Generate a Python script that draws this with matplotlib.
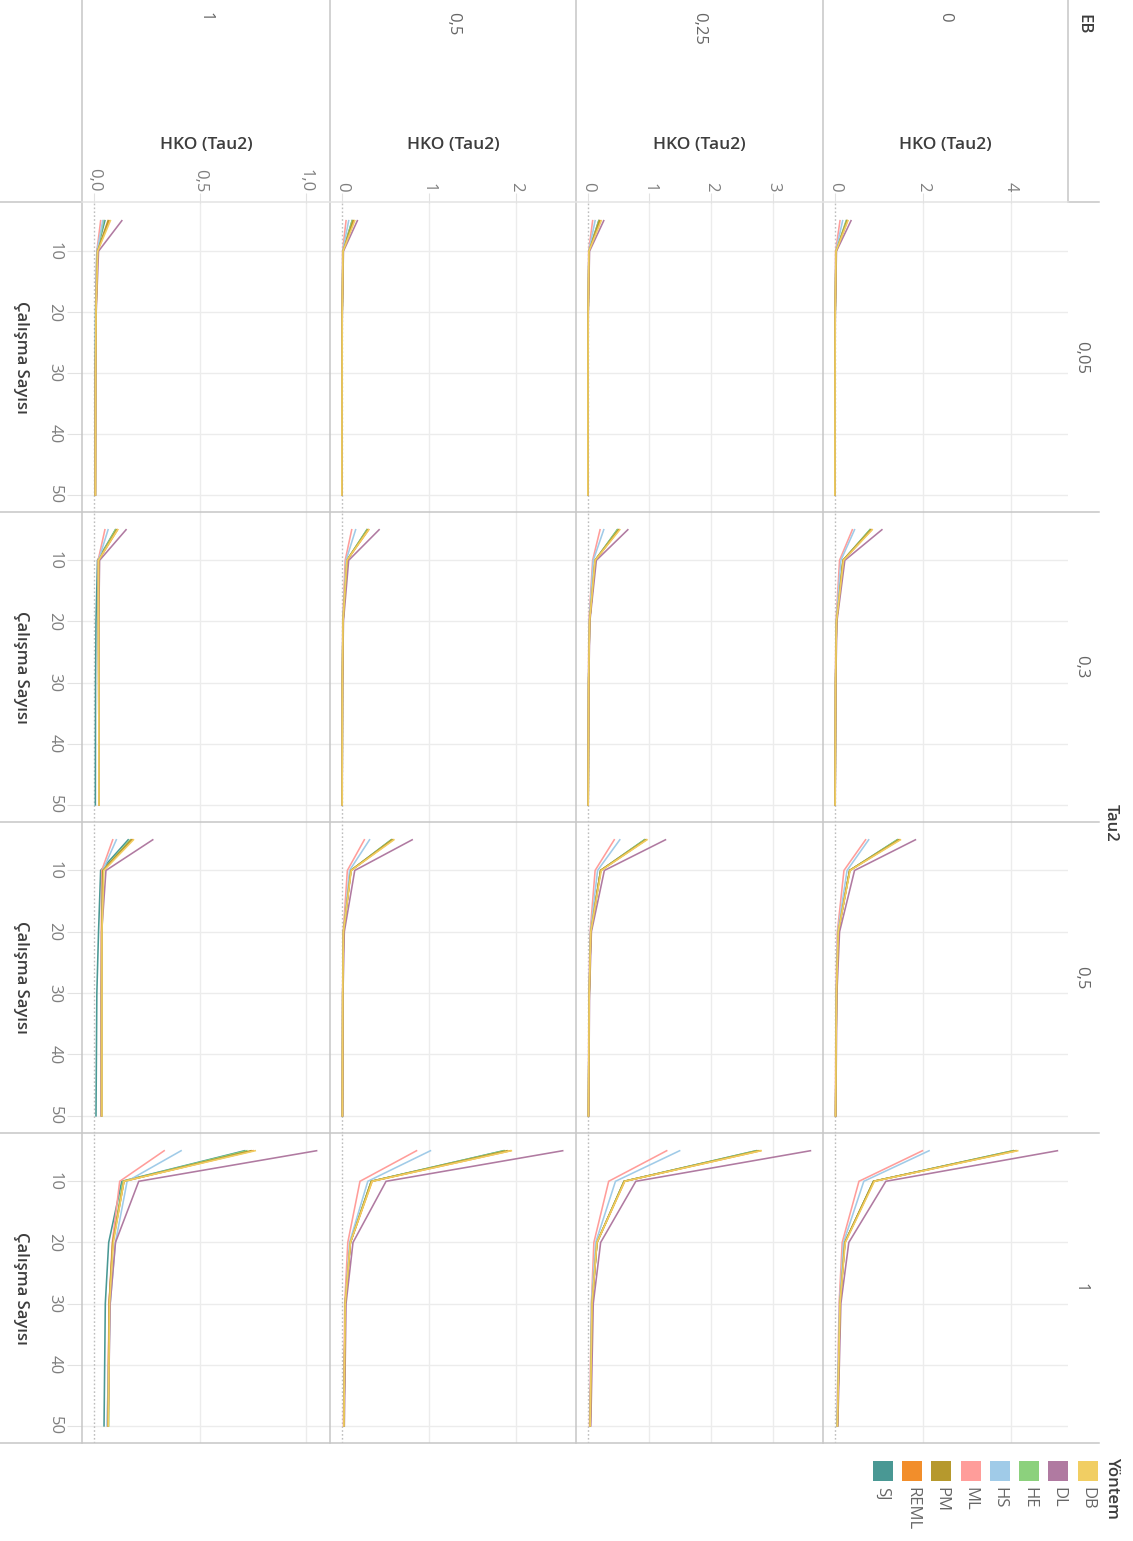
import matplotlib
matplotlib.use("Agg")
import matplotlib.pyplot as plt
from matplotlib.lines import Line2D
from matplotlib.patches import Rectangle

plt.rcParams['font.family'] = ['Open Sans', 'DejaVu Sans']

W, H = 1133, 1541

# ---------------- data ----------------
METHODS = ["SJ", "REML", "PM", "ML", "HS", "HE", "DL", "DB"]
DRAW_ORDER = ["SJ", "HE", "REML", "ML", "HS", "DL", "PM", "DB"]
LEGEND_ORDER = ["DB", "DL", "HE", "HS", "ML", "PM", "REML", "SJ"]
COLORS = {"SJ": "#499894", "REML": "#F28E2B", "PM": "#B6992D", "ML": "#FF9D9A",
          "HS": "#A0CBE8", "HE": "#8CD17D", "DL": "#B07AA1", "DB": "#F1CE63"}
N_STUDIES = [5, 10, 20, 30, 50]
EB_LEVELS = ["0", "0,25", "0,5", "1"]
TAU2_LEVELS = ["0,05", "0,3", "0,5", "1"]
N_TICKS = [10, 20, 30, 40, 50]
EB_XTICKS = [[0, 2, 4], [0, 1, 2, 3], [0, 1, 2], [0, 0.5, 1.0]]
EB_XTICKLABELS = [["0", "2", "4"], ["0", "1", "2", "3"], ["0", "1", "2"], ["0,0", "0,5", "1,0"]]

# HKO (Tau2) values; rows follow METHODS order, columns follow N_STUDIES
# EB = 0
HKO_EB0_T005 = [[0.27, 0.03, 0.012, 0.008, 0.005], [0.29, 0.03, 0.012, 0.008, 0.005],
                [0.28, 0.03, 0.012, 0.008, 0.005], [0.12, 0.02, 0.01, 0.007, 0.004],
                [0.18, 0.025, 0.011, 0.007, 0.004], [0.26, 0.03, 0.012, 0.008, 0.005],
                [0.37, 0.04, 0.014, 0.009, 0.006], [0.30, 0.03, 0.012, 0.008, 0.005]]
HKO_EB0_T03 = [[0.80, 0.19, 0.04, 0.02, 0.010], [0.84, 0.19, 0.04, 0.02, 0.010],
               [0.82, 0.19, 0.04, 0.02, 0.010], [0.40, 0.11, 0.03, 0.015, 0.008],
               [0.45, 0.14, 0.035, 0.018, 0.009], [0.80, 0.19, 0.04, 0.02, 0.010],
               [1.07, 0.23, 0.05, 0.025, 0.012], [0.85, 0.20, 0.04, 0.02, 0.010]]
HKO_EB0_T05 = [[1.42, 0.34, 0.08, 0.04, 0.02], [1.47, 0.34, 0.08, 0.04, 0.02],
               [1.45, 0.34, 0.08, 0.04, 0.02], [0.70, 0.21, 0.06, 0.03, 0.015],
               [0.77, 0.28, 0.07, 0.035, 0.02], [1.42, 0.34, 0.08, 0.04, 0.02],
               [1.83, 0.45, 0.11, 0.05, 0.025], [1.49, 0.35, 0.08, 0.04, 0.02]]
HKO_EB0_T1 = [[4.05, 0.88, 0.23, 0.12, 0.06], [4.12, 0.89, 0.23, 0.12, 0.06],
              [4.10, 0.88, 0.23, 0.12, 0.06], [1.99, 0.55, 0.17, 0.10, 0.05],
              [2.14, 0.66, 0.20, 0.11, 0.05], [4.05, 0.88, 0.23, 0.12, 0.06],
              [5.05, 1.16, 0.32, 0.14, 0.07], [4.15, 0.90, 0.24, 0.12, 0.06]]
# EB = 0.25
HKO_EB025_T005 = [[0.18, 0.02, 0.008, 0.005, 0.003], [0.20, 0.02, 0.008, 0.005, 0.003],
                  [0.19, 0.02, 0.008, 0.005, 0.003], [0.08, 0.015, 0.007, 0.004, 0.003],
                  [0.12, 0.018, 0.007, 0.004, 0.003], [0.18, 0.02, 0.008, 0.005, 0.003],
                  [0.26, 0.03, 0.01, 0.006, 0.004], [0.22, 0.02, 0.008, 0.005, 0.003]]
HKO_EB025_T03 = [[0.48, 0.12, 0.03, 0.015, 0.008], [0.51, 0.12, 0.03, 0.015, 0.008],
                 [0.50, 0.12, 0.03, 0.015, 0.008], [0.20, 0.08, 0.02, 0.012, 0.006],
                 [0.26, 0.09, 0.025, 0.013, 0.007], [0.48, 0.12, 0.03, 0.015, 0.008],
                 [0.65, 0.14, 0.035, 0.018, 0.009], [0.52, 0.12, 0.03, 0.015, 0.008]]
HKO_EB025_T05 = [[0.92, 0.21, 0.05, 0.025, 0.012], [0.95, 0.21, 0.05, 0.025, 0.012],
                 [0.94, 0.21, 0.05, 0.025, 0.012], [0.43, 0.12, 0.04, 0.02, 0.010],
                 [0.52, 0.16, 0.045, 0.022, 0.011], [0.92, 0.21, 0.05, 0.025, 0.012],
                 [1.26, 0.27, 0.06, 0.03, 0.015], [0.96, 0.22, 0.05, 0.025, 0.012]]
HKO_EB025_T1 = [[2.73, 0.59, 0.15, 0.07, 0.04], [2.80, 0.60, 0.15, 0.07, 0.04],
                [2.77, 0.59, 0.15, 0.07, 0.04], [1.28, 0.34, 0.10, 0.06, 0.03],
                [1.49, 0.45, 0.13, 0.06, 0.04], [2.74, 0.59, 0.15, 0.07, 0.04],
                [3.61, 0.78, 0.21, 0.09, 0.05], [2.81, 0.60, 0.15, 0.07, 0.04]]
# EB = 0.5
HKO_EB05_T005 = [[0.12, 0.015, 0.006, 0.004, 0.002], [0.14, 0.015, 0.006, 0.004, 0.002],
                 [0.13, 0.015, 0.006, 0.004, 0.002], [0.05, 0.01, 0.005, 0.003, 0.002],
                 [0.08, 0.012, 0.005, 0.003, 0.002], [0.12, 0.015, 0.006, 0.004, 0.002],
                 [0.18, 0.02, 0.007, 0.004, 0.003], [0.15, 0.015, 0.006, 0.004, 0.002]]
HKO_EB05_T03 = [[0.29, 0.06, 0.015, 0.008, 0.005], [0.31, 0.06, 0.015, 0.008, 0.005],
                [0.30, 0.06, 0.015, 0.008, 0.005], [0.115, 0.04, 0.012, 0.007, 0.004],
                [0.16, 0.05, 0.013, 0.007, 0.004], [0.29, 0.06, 0.015, 0.008, 0.005],
                [0.43, 0.08, 0.02, 0.01, 0.006], [0.31, 0.06, 0.015, 0.008, 0.005]]
HKO_EB05_T05 = [[0.57, 0.106, 0.02, 0.012, 0.008], [0.59, 0.106, 0.02, 0.012, 0.008],
                [0.58, 0.106, 0.02, 0.012, 0.008], [0.26, 0.065, 0.018, 0.010, 0.007],
                [0.32, 0.09, 0.02, 0.011, 0.008], [0.57, 0.106, 0.02, 0.012, 0.008],
                [0.81, 0.15, 0.03, 0.015, 0.010], [0.60, 0.11, 0.02, 0.012, 0.008]]
HKO_EB05_T1 = [[1.86, 0.34, 0.10, 0.04, 0.025], [1.94, 0.35, 0.10, 0.04, 0.025],
               [1.90, 0.34, 0.10, 0.04, 0.025], [0.86, 0.21, 0.07, 0.035, 0.02],
               [1.02, 0.30, 0.09, 0.04, 0.025], [1.87, 0.34, 0.10, 0.04, 0.025],
               [2.54, 0.51, 0.13, 0.05, 0.03], [1.95, 0.35, 0.10, 0.04, 0.025]]
# EB = 1
HKO_EB1_T005 = [[0.05, 0.012, 0.006, 0.004, 0.003], [0.07, 0.015, 0.008, 0.006, 0.005],
                [0.065, 0.015, 0.008, 0.006, 0.005], [0.03, 0.012, 0.007, 0.006, 0.005],
                [0.04, 0.013, 0.008, 0.006, 0.005], [0.044, 0.014, 0.008, 0.006, 0.005],
                [0.13, 0.02, 0.009, 0.006, 0.005], [0.076, 0.016, 0.008, 0.006, 0.005]]
HKO_EB1_T03 = [[0.10, 0.015, 0.008, 0.006, 0.005], [0.11, 0.02, 0.02, 0.021, 0.022],
               [0.105, 0.02, 0.02, 0.021, 0.022], [0.05, 0.018, 0.02, 0.021, 0.022],
               [0.065, 0.02, 0.02, 0.021, 0.022], [0.10, 0.02, 0.02, 0.021, 0.022],
               [0.15, 0.025, 0.021, 0.021, 0.022], [0.11, 0.02, 0.02, 0.021, 0.022]]
HKO_EB1_T05 = [[0.16, 0.03, 0.02, 0.012, 0.008], [0.18, 0.04, 0.035, 0.034, 0.034],
               [0.175, 0.04, 0.035, 0.034, 0.034], [0.087, 0.035, 0.033, 0.033, 0.033],
               [0.104, 0.04, 0.035, 0.034, 0.034], [0.17, 0.04, 0.037, 0.036, 0.036],
               [0.276, 0.055, 0.035, 0.034, 0.034], [0.185, 0.045, 0.036, 0.036, 0.036]]
HKO_EB1_T1 = [[0.71, 0.13, 0.068, 0.052, 0.046], [0.75, 0.14, 0.088, 0.07, 0.065],
              [0.74, 0.14, 0.087, 0.07, 0.065], [0.33, 0.12, 0.085, 0.07, 0.062],
              [0.41, 0.155, 0.10, 0.075, 0.060], [0.72, 0.135, 0.087, 0.072, 0.068],
              [1.05, 0.21, 0.10, 0.075, 0.065], [0.76, 0.14, 0.09, 0.072, 0.066]]

HKO = [[HKO_EB0_T005, HKO_EB0_T03, HKO_EB0_T05, HKO_EB0_T1],
       [HKO_EB025_T005, HKO_EB025_T03, HKO_EB025_T05, HKO_EB025_T1],
       [HKO_EB05_T005, HKO_EB05_T03, HKO_EB05_T05, HKO_EB05_T1],
       [HKO_EB1_T005, HKO_EB1_T03, HKO_EB1_T05, HKO_EB1_T1]]

# ---------------- layout (pixels) ----------------
ROW_X = [(823, 1068), (576, 823), (330, 576), (82, 330)]      # EB rows -> horizontal bands
COL_Y = [(203, 512), (512, 822), (822, 1133), (1133, 1443)]   # Tau2 columns -> vertical bands
ZERO_PX = [834.7, 587.7, 341.7, 94.3]
UNIT_PX = [44.1, 61.7, 87.0, 211.7]
YLIM = (52.8, 2.1)

GRID = "#ececec"
DIV = "#c6c6c6"
TICKLBL = "#7f7f7f"
TITLE = "#3d3d3d"

fig = plt.figure(figsize=(W / 100, H / 100), dpi=100)


def fx(px):
    return px / W


def fy(py):
    return 1 - py / H


for r in range(4):
    x0, x1 = ROW_X[r]
    xlim = ((x0 - ZERO_PX[r]) / UNIT_PX[r], (x1 - ZERO_PX[r]) / UNIT_PX[r])
    for c in range(4):
        y0, y1 = COL_Y[c]
        ax = fig.add_axes([fx(x0), fy(y1), (x1 - x0) / W, (y1 - y0) / H])
        ax.set_xlim(xlim)
        ax.set_ylim(YLIM)
        for t in EB_XTICKS[r]:
            if t != 0:
                ax.axvline(t, color=GRID, lw=1.0, zorder=0)
        for n in N_TICKS:
            ax.axhline(n, color=GRID, lw=1.0, zorder=0)
        ax.axvline(0, color="#bdbdbd", lw=1.0, ls=(0, (1.2, 1.6)), zorder=0.5)
        data = HKO[r][c]
        for m in DRAW_ORDER:
            vals = data[METHODS.index(m)]
            ax.plot(vals, N_STUDIES, color=COLORS[m], lw=1.15, zorder=2,
                    solid_joinstyle="miter")
        for s in ax.spines.values():
            s.set_visible(False)
        ax.set_xticks(EB_XTICKS[r])
        ax.set_yticks(N_TICKS)
        if c == 0:
            ax.xaxis.tick_top()
            ax.set_xticklabels(EB_XTICKLABELS[r], rotation=-90, ha="center", va="bottom",
                               fontsize=12, color=TICKLBL)
            ax.tick_params(axis="x", length=7.5, width=0.8, color="#e2e2e2", pad=0.5)
        else:
            ax.tick_params(axis="x", top=False, bottom=False, labeltop=False, labelbottom=False)
        if r == 3:
            ax.set_yticklabels([str(n) for n in N_TICKS], rotation=-90, ha="right", va="center",
                               fontsize=12, color=TICKLBL)
            ax.tick_params(axis="y", length=11, width=0.8, color="#e2e2e2", pad=3)
        else:
            ax.tick_params(axis="y", left=False, right=False, labelleft=False)

# ---------------- headers ----------------
for r in range(4):
    x0, x1 = ROW_X[r]
    xc = (x0 + x1) / 2
    fig.text(fx(xc), fy(12), EB_LEVELS[r], rotation=-90, ha="center", va="top",
             fontsize=12, color="#666666")
    fig.text(fx(xc), fy(145), "HKO (Tau2)", ha="center", va="center",
             fontsize=12.5, color=TITLE, fontweight="semibold")

for c in range(4):
    y0, y1 = COL_Y[c]
    yc = (y0 + y1) / 2
    fig.text(fx(1081), fy(yc), TAU2_LEVELS[c], rotation=-90, ha="center", va="center",
             fontsize=12, color="#666666")
    fig.text(fx(21), fy(yc), "Çalışma Sayısı", rotation=-90, ha="center", va="center",
             fontsize=12, color=TITLE, fontweight="semibold")

fig.text(fx(1083), fy(14), "EB", rotation=-90, ha="center", va="top",
         fontsize=12, color=TITLE, fontweight="semibold")
fig.text(fx(1111), fy(823), "Tau2", rotation=-90, ha="center", va="center",
         fontsize=12, color=TITLE, fontweight="semibold")


# ---------------- dividers ----------------
def seg(xa, ya, xb, yb, color=DIV, lw=1.1):
    fig.add_artist(Line2D([fx(xa), fx(xb)], [fy(ya), fy(yb)], color=color, lw=lw,
                          transform=fig.transFigure))


for xv in (82, 330, 576, 823):
    seg(xv, 0, xv, 1443)
seg(1068, 0, 1068, 202)
for yv in (512, 822, 1133, 1443):
    seg(0, yv, 1099, yv)
seg(0, 202, 82, 202)
seg(1068, 202, 1099, 202)
seg(82, 202, 1068, 202, color="#e3e3e3")

# ---------------- legend ----------------
fig.text(fx(1112), fy(1457), "Yöntem", rotation=-90, ha="center", va="top",
         fontsize=12, color=TITLE, fontweight="semibold")
for i, m in enumerate(LEGEND_ORDER):
    xl = 1077.7 - i * 29.3
    fig.add_artist(Rectangle((fx(xl), fy(1480.7)), 20 / W, 20 / H, transform=fig.transFigure,
                             facecolor=COLORS[m], edgecolor="none"))
    fig.text(fx(xl + 10), fy(1487), m, rotation=-90, ha="center", va="top",
             fontsize=12, color="#666666")

fig.savefig("out.png", dpi=100, facecolor="white")
